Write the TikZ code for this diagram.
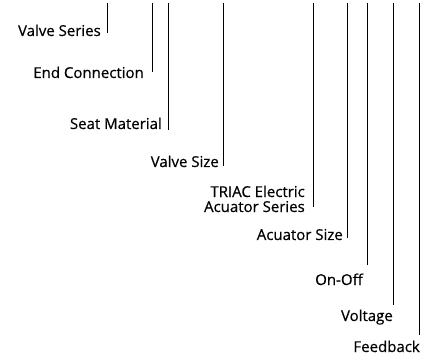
\documentclass[tikz,border=0pt]{standalone}
\usepackage{fontspec}
\setmainfont{Open Sans}
\newfontfamily\labelfont{Open Sans}[FakeBold=0.5]
\usepackage{tikz}

\begin{document}
\begin{tikzpicture}[x=1pt, y=-1pt,
  label/.style={anchor=base east, inner sep=0pt, font=\labelfont\fontsize{15}{15}\selectfont},
  lead/.style={line width=0.8pt, black}]

\useasboundingbox (0,0) rectangle (441,355);

% field labels, right aligned
\node[label] (vs)   at (101,36)  {Valve Series};
\node[label] (ec)   at (144,78)  {End Connection};
\node[label] (sm)   at (162,129) {Seat Material};
\node[label] (vsz)  at (219,167) {Valve Size};
\node[label, align=right] (tri) at (305,212) {TRIAC Electric\\Acuator Series};
\node[label] (asz)  at (343,240) {Acuator Size};
\node[label] (oo)   at (363,285) {On-Off};
\node[label] (vol)  at (393,321) {Voltage};
\node[label] (fb)   at (420,352) {Feedback};

% leader lines from the part number down to each label
\foreach \x/\yb/\n in {107/33/vs, 152/72/ec, 168/130/sm, 223/166/vsz,
                       313/207/tri, 347/238/asz, 367/265/oo, 393/305/vol, 419/335/fb} {
  \coordinate (top\n) at (\x,3);
  \coordinate (end\n) at (\x,\yb);
  \draw[lead] (top\n) -- (end\n);
}
\end{tikzpicture}
\end{document}
